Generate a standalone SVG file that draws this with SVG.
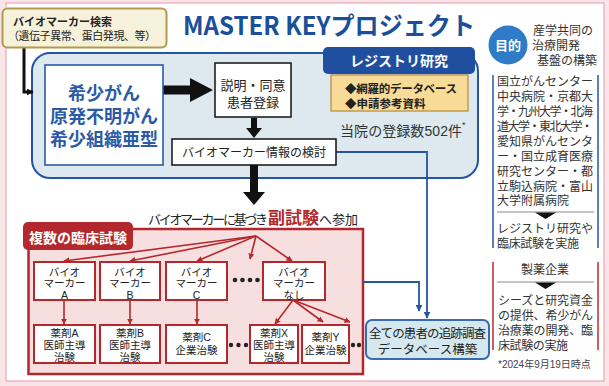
<svg xmlns="http://www.w3.org/2000/svg" width="609" height="386" viewBox="0 0 609 386">
<defs>
<marker id="ar" viewBox="0 0 10 10" refX="9" refY="5" markerWidth="6" markerHeight="6" orient="auto" markerUnits="userSpaceOnUse"><path d="M0,0 L10,5 L0,10 z" fill="#b3282d"/></marker>
<marker id="ab" viewBox="0 0 10 10" refX="9" refY="5" markerWidth="7" markerHeight="7" orient="auto" markerUnits="userSpaceOnUse"><path d="M0,0 L10,5 L0,10 z" fill="#2456a4"/></marker>
<marker id="ak" viewBox="0 0 10 10" refX="9" refY="5" markerWidth="7" markerHeight="7" orient="auto" markerUnits="userSpaceOnUse"><path d="M0,0 L10,5 L0,10 z" fill="#111"/></marker>
</defs>
<style>
text{font-family:"Liberation Sans","Noto Sans CJK JP",sans-serif;fill:#222}
.c{text-anchor:middle}
.b{font-weight:bold}
.bm{fill:#fff;stroke:#b3282d;stroke-width:2}
.bt{font-size:10.5px;text-anchor:middle}
.rl{stroke:#b3282d;stroke-width:1.6;fill:none;marker-end:url(#ar)}
.bl{stroke:#2456a4;stroke-width:1.8;fill:none;marker-end:url(#ab)}
.rt{font-size:12px;fill:#333}
</style>
<rect x="0" y="0" width="609" height="386" fill="#f9e4e8"/>
<rect x="6" y="3" width="598" height="378" fill="#ffffff" stroke="#e8a7b6" stroke-width="1.2"/>

<g id="title"><text x="183" y="35" font-size="25" class="b" style="fill:#1a4f9a;font-family:'Noto Sans CJK JP',sans-serif" textLength="292" lengthAdjust="spacingAndGlyphs">MASTER KEYプロジェクト</text></g>

<g id="registry-region">
<rect x="32" y="53" width="446" height="125" rx="18" fill="#dde9ee" stroke="#2456a4" stroke-width="2"/>
</g>

<g id="trials-region">
<rect x="28.5" y="229" width="334.5" height="145" fill="#f7dedf" stroke="#b3282d" stroke-width="2.5"/>
</g>

<g id="connectors">
<path d="M24,47 V92 H33" fill="none" stroke="#111" stroke-width="3" marker-end="url(#ak)"/>
<path d="M163,85.5 H190 V78 L213,90 L190,102 V94.5 H163 z" fill="#111"/>
<path d="M251,118 H257 V128 H262 L254,138 L246,128 H251 z" fill="#111"/>
<path d="M250,165 H258 V192 H265 L254,205 L243,192 H250 z" fill="#111"/>
<path class="bl" d="M336,152 H427 V318"/>
<path class="bl" d="M363,282 H419 V311"/>
<path class="rl" d="M256,236 L64,261"/>
<path class="rl" d="M256,236 L130,261"/>
<path class="rl" d="M256,236 L197,261"/>
<path class="rl" d="M256,236 L250,259"/>
<path class="rl" d="M256,236 L292,261"/>
<path class="rl" d="M64,300 V324"/>
<path class="rl" d="M130,300 V324"/>
<path class="rl" d="M197,300 V324"/>
<path class="rl" d="M293,300 L275,324"/>
<path class="rl" d="M293,300 L323,322"/>
<path class="rl" d="M293,300 L350,322"/>
</g>

<g id="search">
<rect x="2.5" y="8.5" width="164" height="39" rx="5" fill="#f6f1da" stroke="#b39a4a" stroke-width="2"/>
<text font-size="11"><tspan x="13" y="26" font-weight="bold">バイオマーカー検索</tspan><tspan x="8" y="40" textLength="148">（遺伝子異常、蛋白発現、等）</tspan></text>
</g>

<g id="registry-tab">
<rect x="323" y="47" width="152" height="27" rx="5" fill="#1f4f9e"/>
<text x="399" y="66" font-size="14" class="c b" style="fill:#fff">レジストリ研究</text>
</g>

<g id="database">
<rect x="331" y="75" width="137" height="36" fill="#f8db97" stroke="#b38a3a" stroke-width="1.2"/>
<text font-size="11.5" class="b"><tspan x="345" y="93" textLength="112">◆網羅的データベース</tspan><tspan x="345" y="108">◆申請参考資料</tspan></text>
</g>

<g id="count">
<text x="340" y="136" font-size="14" style="fill:#333"><tspan textLength="122">当院の登録数502件</tspan><tspan font-size="9" dy="-8">*</tspan></text>
</g>

<g id="rare">
<rect x="45" y="65" width="118" height="100" fill="#fff" stroke="#2a5aa8" stroke-width="1.6"/>
<text font-size="18" class="c b" style="fill:#2a5aa8"><tspan x="104" y="100">希少がん</tspan><tspan x="104" y="123">原発不明がん</tspan><tspan x="104" y="146">希少組織亜型</tspan></text>
</g>

<g id="consent">
<rect x="215" y="63" width="76" height="54" fill="#fff" stroke="#111" stroke-width="1.5"/>
<text font-size="13" class="c"><tspan x="253" y="90">説明・同意</tspan><tspan x="253" y="107">患者登録</tspan></text>
</g>

<g id="review">
<rect x="172" y="139" width="164" height="26" fill="#fff" stroke="#111" stroke-width="1.5"/>
<text x="254" y="157" font-size="12" class="c">バイオマーカー情報の検討</text>
</g>

<g id="subtrial-label">
<text x="148" y="224" font-size="13"><tspan textLength="120">バイオマーカーに基づき</tspan><tspan x="268" font-size="17" style="fill:#b3282d" font-weight="bold">副試験</tspan><tspan x="319">へ参加</tspan></text>
</g>

<g id="trials-tab">
<rect x="23" y="222" width="110" height="28" rx="5" fill="#b3282d"/>
<text x="78" y="243" font-size="14" class="c b" style="fill:#fff">複数の臨床試験</text>
</g>

<g id="bm-a"><rect class="bm" x="34" y="262" width="61" height="38"/><text class="bt"><tspan x="64.5" y="275.5">バイオ</tspan><tspan x="64.5" y="287.3">マーカー</tspan><tspan x="64.5" y="299">A</tspan></text></g>
<g id="bm-b"><rect class="bm" x="100" y="262" width="60" height="38"/><text class="bt"><tspan x="130" y="275.5">バイオ</tspan><tspan x="130" y="287.3">マーカー</tspan><tspan x="130" y="299">B</tspan></text></g>
<g id="bm-c"><rect class="bm" x="166" y="262" width="61" height="38"/><text class="bt"><tspan x="196.5" y="275.5">バイオ</tspan><tspan x="196.5" y="287.3">マーカー</tspan><tspan x="196.5" y="299">C</tspan></text></g>
<g id="bm-dots"><circle cx="235" cy="280" r="2.3" fill="#222"/><circle cx="242.5" cy="280" r="2.3" fill="#222"/><circle cx="250" cy="280" r="2.3" fill="#222"/><circle cx="257.5" cy="280" r="2.3" fill="#222"/></g>
<g id="bm-none"><rect class="bm" x="263" y="262" width="62" height="38"/><text class="bt"><tspan x="294" y="275.5">バイオ</tspan><tspan x="294" y="287.3">マーカー</tspan><tspan x="294" y="299">なし</tspan></text></g>

<g id="drug-a"><rect class="bm" x="34" y="325" width="61" height="38"/><text class="bt"><tspan x="64.5" y="337">薬剤A</tspan><tspan x="64.5" y="349">医師主導</tspan><tspan x="64.5" y="361">治験</tspan></text></g>
<g id="drug-b"><rect class="bm" x="100" y="325" width="60" height="38"/><text class="bt"><tspan x="130" y="337">薬剤B</tspan><tspan x="130" y="349">医師主導</tspan><tspan x="130" y="361">治験</tspan></text></g>
<g id="drug-c"><rect class="bm" x="166" y="325" width="61" height="38"/><text class="bt"><tspan x="196.5" y="341">薬剤C</tspan><tspan x="196.5" y="354">企業治験</tspan></text></g>
<g id="drug-dots"><circle cx="231" cy="345" r="2.2" fill="#222"/><circle cx="238.5" cy="345" r="2.2" fill="#222"/><circle cx="246" cy="345" r="2.2" fill="#222"/></g>
<g id="drug-x"><rect class="bm" x="250" y="325" width="48" height="38"/><text class="bt"><tspan x="274" y="337">薬剤X</tspan><tspan x="274" y="349">医師主導</tspan><tspan x="274" y="361">治験</tspan></text></g>
<g id="drug-y"><rect class="bm" x="302" y="325" width="47" height="38"/><text class="bt"><tspan x="325.5" y="341">薬剤Y</tspan><tspan x="325.5" y="354">企業治験</tspan></text></g>
<g id="drug-dots2"><circle cx="353" cy="345" r="2.2" fill="#222"/><circle cx="359" cy="345" r="2.2" fill="#222"/></g>

<g id="followup">
<rect x="366" y="320" width="123" height="39" rx="6" fill="#d6e8ef" stroke="#3a6ab0" stroke-width="2"/>
<text font-size="12.5" class="c"><tspan x="427.5" y="338" textLength="117">全ての患者の追跡調査</tspan><tspan x="427.5" y="354">データベース構築</tspan></text>
</g>

<g id="purpose">
<circle cx="508" cy="45" r="19.5" fill="#2e7cc7"/>
<text x="508" y="50" font-size="13" class="c b" style="fill:#fff">目的</text>
<text class="rt"><tspan x="533" y="35">産学共同の</tspan><tspan x="532" y="50">治療開発</tspan><tspan x="537" y="65">基盤の構築</tspan></text>
</g>

<g id="institutions">
<line x1="493" y1="75" x2="493" y2="248" stroke="#2456a4" stroke-width="1.5"/>
<line x1="598" y1="75" x2="598" y2="248" stroke="#2456a4" stroke-width="1.5"/>
<text class="rt"><tspan x="497" y="86" textLength="96">国立がんセンター</tspan><tspan x="497" y="101" textLength="96">中央病院・京都大</tspan><tspan x="497" y="116" textLength="96">学・九州大学・北海</tspan><tspan x="497" y="131" textLength="96">道大学・東北大学・</tspan><tspan x="497" y="146" textLength="96">愛知県がんセンタ</tspan><tspan x="497" y="161" textLength="96">ー・国立成育医療</tspan><tspan x="497" y="176" textLength="96">研究センター・都</tspan><tspan x="497" y="191" textLength="96">立駒込病院・富山</tspan><tspan x="497" y="205">大学附属病院</tspan></text>
<line x1="497" y1="212" x2="594" y2="212" stroke="#888" stroke-width="1"/>
<path d="M535,212.5 H556 L545.5,219 z" fill="#111"/>
<text class="rt"><tspan x="497" y="233" textLength="96">レジストリ研究や</tspan><tspan x="497" y="248" textLength="82">臨床試験を実施</tspan></text>
</g>

<g id="pharma">
<line x1="493" y1="262" x2="493" y2="350" stroke="#c0282d" stroke-width="1.5"/>
<line x1="598" y1="262" x2="598" y2="350" stroke="#c0282d" stroke-width="1.5"/>
<text x="545" y="274" class="rt c">製薬企業</text>
<line x1="497" y1="282" x2="594" y2="282" stroke="#888" stroke-width="1"/>
<path d="M535,282.5 H556 L545.5,289 z" fill="#111"/>
<text class="rt"><tspan x="498" y="305" textLength="95">シーズと研究資金</tspan><tspan x="498" y="320" textLength="95">の提供、希少がん</tspan><tspan x="498" y="335" textLength="95">治療薬の開発、臨</tspan><tspan x="498" y="350" textLength="70">床試験の実施</tspan></text>
</g>

<g id="note"><text x="498" y="368" font-size="10" style="fill:#444">*2024年9月19日時点</text></g>
</svg>
